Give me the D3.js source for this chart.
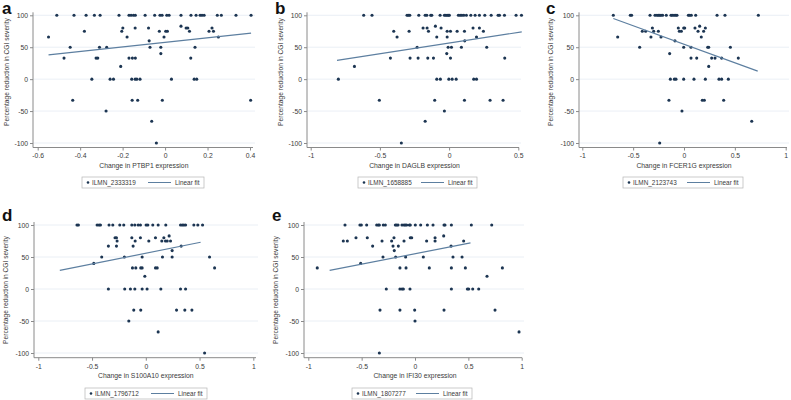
<!DOCTYPE html>
<html><head><meta charset="utf-8">
<script src="https://cdn.jsdelivr.net/npm/d3@7"></script>
<style>
html,body{margin:0;padding:0;background:#fff;}
svg{display:block;font-family:"Liberation Sans",Arial,sans-serif;}
</style></head>
<body><svg id="c" width="791" height="400"></svg>
<script>
// ---------- data ----------
const panelLetters = ["a","b","c","d","e"];
const genes = ["PTBP1","DAGLB","FCER1G","S100A10","IFI30"];
const probes = ["ILMN_2333319","ILMN_1658885","ILMN_2123743","ILMN_1796712","ILMN_1807277"];
const yTicks = [-100,-50,0,50,100];
const xTicksA = [-0.6,-0.4,-0.2,0,0.2,0.4];
const xTicksB = [-1,-0.5,0,0.5];
const xTicksC = [-1,-0.5,0,0.5,1];
const xTicksD = [-1,-0.5,0,0.5,1];
const xTicksE = [-1,-0.5,0,0.5,1];

const pointsA = [
[-0.51,100],[-0.429,100],[-0.372,100],[-0.333,100],[-0.306,100],[-0.217,100],[-0.170,100],[-0.160,100],[-0.149,100],[-0.140,100],[-0.094,100],[-0.049,100],[-0.024,100],[-0.014,100],[0.008,100],[0.019,100],[0.075,100],[0.122,100],[0.146,100],[0.165,100],[0.174,100],[0.184,100],[0.246,100],[0.265,100],[0.334,100],[0.405,100],
[-0.549,66],[-0.380,75],[-0.447,50],[-0.476,33],[-0.309,50],[-0.325,33],[-0.317,33],[-0.275,50],[-0.345,0],[-0.259,0],[-0.243,0],[-0.435,-33],[-0.278,-50],
[-0.209,20],[-0.204,75],[-0.199,80],[-0.179,66],[-0.170,33],[-0.154,33],[-0.141,80],[-0.140,33],[-0.157,0],[-0.141,0],[-0.133,0],[-0.118,0],[-0.155,-33],[-0.129,-33],
[-0.078,80],[-0.075,60],[-0.071,50],[-0.063,-66],[-0.041,-100],[-0.027,75],[-0.020,50],[-0.020,40],[-0.013,-33],[-0.005,66],[0.003,75],[0.011,75],[0.030,0],
[0.075,83],[0.099,80],[0.107,80],[0.115,75],[0.121,33],[0.137,0],[0.149,0],[0.141,50],[0.207,75],[0.221,80],[0.228,75],[0.251,66],[0.403,-33]
];
const pointsB = [
[-0.617,100],[-0.557,100],[-0.304,100],[-0.294,100],[-0.284,100],[-0.219,100],[-0.173,100],[-0.161,100],[-0.133,100],[-0.125,100],[-0.065,100],[-0.034,100],[-0.024,100],[-0.014,100],[-0.005,100],[0.002,100],[0.067,100],[0.080,100],[0.092,100],[0.106,100],[0.125,100],[0.157,100],[0.188,100],[0.219,100],[0.258,100],[0.304,100],[0.354,100],[0.364,100],[0.400,100],[0.484,100],[0.523,100],
[-0.80,0],[-0.684,20],[-0.504,-33],[-0.400,75],[-0.376,66],[-0.424,33],[-0.345,-100],[-0.289,75],[-0.282,33],[-0.231,50],[-0.224,33],[-0.188,80],[-0.173,-66],
[-0.159,80],[-0.149,75],[-0.154,33],[-0.113,33],[-0.104,-33],[-0.099,83],[-0.089,66],[-0.089,0],[-0.058,80],[-0.063,0],[-0.034,-50],[-0.017,40],[-0.014,66],[-0.014,75],
[-0.007,50],[-0.002,0],[0.010,75],[0.010,33],[0.017,50],[0.022,0],[0.051,0],[0.058,75],[0.089,50],[0.111,75],[0.113,60],[0.111,-33],[0.173,80],[0.178,0],[0.198,0],
[0.198,66],[0.219,80],[0.248,75],[0.272,50],[0.296,-33],[0.390,-33],[0.402,33]
];
const pointsC = [
[-0.695,100],[-0.528,100],[-0.515,100],[-0.334,100],[-0.285,100],[-0.266,100],[-0.252,100],[-0.239,100],[-0.226,100],[-0.210,100],[-0.174,100],[-0.128,100],[-0.115,100],[-0.098,100],[-0.082,100],[-0.069,100],[0.043,100],[0.056,100],[0.072,100],[0.115,100],[0.325,100],[0.403,100],[0.731,100],
[-0.652,66],[-0.436,50],[-0.410,75],[-0.377,75],[-0.311,80],[-0.298,75],[-0.325,66],[-0.252,75],[-0.226,66],[-0.239,-100],[-0.141,40],[-0.134,0],[-0.148,-33],
[-0.089,60],[-0.095,0],[-0.079,0],[-0.056,80],[-0.046,75],[-0.026,75],[-0.003,80],[0.007,80],[-0.003,50],[-0.003,0],[-0.020,-50],[0.069,50],[0.069,33],[0.098,0],
[0.108,80],[0.125,33],[0.138,75],[0.154,83],[0.170,66],[0.180,-33],[0.200,-33],[0.193,75],[0.210,80],[0.210,0],[0.233,50],[0.243,50],[0.243,20],[0.272,33],
[0.305,33],[0.344,0],[0.370,0],[0.370,33],[0.390,-33],[0.436,0],[0.456,50],[0.534,33],[0.666,-66]
];
const pointsD = [
[-0.640,100],[-0.627,100],[-0.453,100],[-0.435,100],[-0.422,100],[-0.342,100],[-0.307,100],[-0.242,100],[-0.205,100],[-0.130,100],[-0.102,100],[-0.071,100],[-0.050,100],[0.003,100],[0.019,100],[0.065,100],[0.115,100],[0.186,100],[0.323,100],[0.339,100],[0.354,100],[0.370,100],[0.447,100],[0.484,100],[0.528,100],
[-0.484,40],[-0.410,50],[-0.348,67],[-0.348,0],[-0.286,80],[-0.273,80],[-0.267,75],[-0.273,67],[-0.199,50],[-0.196,0],[-0.158,-50],[-0.143,0],[-0.130,80],[-0.118,67],
[-0.124,33],[-0.112,-33],[-0.102,0],[-0.099,75],[-0.093,33],[-0.050,80],[-0.047,33],[-0.034,33],[-0.047,-33],[-0.034,50],[-0.034,0],[-0.009,20],[0.012,0],[0.028,75],
[0.090,80],[0.090,33],[0.106,33],[0.115,-67],[0.140,0],[0.149,75],[0.155,50],[0.168,80],[0.183,75],[0.199,75],[0.217,83],[0.230,75],[0.245,60],[0.245,50],
[0.286,-33],[0.323,0],[0.329,67],[0.363,-33],[0.370,0],[0.429,-33],[0.547,-100],[0.593,50],[0.640,33]
];
const pointsE = [
[-0.656,100],[-0.516,100],[-0.503,100],[-0.453,100],[-0.359,100],[-0.344,100],[-0.334,100],[-0.297,100],[-0.278,100],[-0.184,100],[-0.172,100],[-0.159,100],[-0.122,100],[-0.103,100],[-0.091,100],[-0.078,100],[-0.053,100],[-0.044,100],[0.003,100],[0.053,100],[0.116,100],[0.169,100],[0.272,100],[0.281,100],[0.341,100],[0.528,100],[0.719,100],
[-0.916,33],[-0.672,75],[-0.634,75],[-0.553,80],[-0.509,40],[-0.447,80],[-0.397,67],[-0.334,-100],[-0.328,-33],[-0.309,75],[-0.300,50],[-0.269,0],[-0.219,75],
[-0.206,67],[-0.197,80],[-0.194,60],[-0.181,50],[-0.156,67],[-0.141,33],[-0.141,0],[-0.141,-33],[-0.122,0],[-0.109,0],[-0.103,75],[-0.088,50],[-0.084,33],[-0.047,0],
[-0.044,80],[-0.031,80],[-0.003,-33],[0.000,-50],[0.078,50],[0.109,75],[0.134,33],[0.188,80],[0.188,75],[0.269,83],[0.272,-33],[0.338,67],[0.341,33],[0.341,0],
[0.356,50],[0.441,50],[0.456,75],[0.472,33],[0.491,0],[0.503,0],[0.541,0],[0.597,0],[0.675,20],[0.750,-33],[0.819,33],[0.975,-67]
];
const fitA = [[-0.549,38],[0.405,72]];
const fitB = [[-0.81,29.5],[0.525,74]];
const fitC = [[-0.695,95],[0.725,12.5]];
const fitD = [[-0.80,29],[0.51,73]];
const fitE = [[-0.80,29],[0.52,72]];

// ---------- layout ----------
const layout = [
 {yAxisX:33, xr:[37.7,250], yr:[143,15.3], xAxisY:147.5, right:255, letter:[2,14], yTitleX:6, yTitleY:72, legend:[82,177,122]},
 {yAxisX:307, xr:[310.7,518.3], yr:[143,15.3], xAxisY:147.5, right:521, letter:[275,14], yTitleX:280, yTitleY:72, legend:[358,177,119]},
 {yAxisX:579, xr:[582.3,785.7], yr:[143,15.3], xAxisY:147.5, right:789, letter:[546,14], yTitleX:550, yTitleY:72, legend:[623,177,120]},
 {yAxisX:34, xr:[38.3,253.3], yr:[353,225], xAxisY:357.7, right:258, letter:[2,221], yTitleX:5, yTitleY:290, legend:[85,388,122]},
 {yAxisX:304, xr:[308.3,521.7], yr:[353,225], xAxisY:357.7, right:524, letter:[272,221], yTitleX:275, yTitleY:290, legend:[352,388,120]}
];
const allPoints = [pointsA,pointsB,pointsC,pointsD,pointsE];
const allFits = [fitA,fitB,fitC,fitD,fitE];
const allXTicks = [xTicksA,xTicksB,xTicksC,xTicksD,xTicksE];

const svg = d3.select("#c");
const textCol = "#3a3a3a", axisCol = "#8a8a8a", gridCol = "#e4ebf2";
const dotCol = "#1c3552", lineCol = "#5d7fa0";

layout.forEach((L,i) => {
  const xt = allXTicks[i];
  const x = d3.scaleLinear().domain([xt[0], xt[xt.length-1]]).range(L.xr);
  const y = d3.scaleLinear().domain([-100,100]).range(L.yr);
  const g = svg.append("g");

  // grid
  g.selectAll("line.grid").data(yTicks).join("line")
    .attr("x1", L.yAxisX).attr("x2", L.right)
    .attr("y1", d=>y(d)).attr("y2", d=>y(d))
    .attr("stroke", gridCol).attr("stroke-width", 0.8);

  // y axis
  const ya = g.append("g").attr("transform", `translate(${L.yAxisX},0)`)
    .call(d3.axisLeft(y).tickValues(yTicks).tickFormat(d=>String(d)).tickSize(3).tickSizeOuter(0));
  ya.select(".domain").attr("stroke", axisCol).attr("d", `M0,${y(100)-3}V${L.xAxisY}`);
  ya.selectAll(".tick line").attr("stroke", axisCol);
  ya.selectAll(".tick text").attr("font-size", 6.8).attr("fill", textCol).attr("x", -5).attr("font-family","Liberation Sans, Arial, sans-serif");

  // x axis
  const xa = g.append("g").attr("transform", `translate(0,${L.xAxisY})`)
    .call(d3.axisBottom(x).tickValues(xt).tickFormat(d=>String(d)).tickSize(3).tickSizeOuter(0));
  xa.select(".domain").attr("stroke", axisCol).attr("d", `M${L.yAxisX},0H${L.right-2}`);
  xa.selectAll(".tick line").attr("stroke", axisCol);
  xa.selectAll(".tick text").attr("font-size", 6.8).attr("fill", textCol).attr("y", 6).attr("font-family","Liberation Sans, Arial, sans-serif");

  // points
  g.selectAll("circle.pt").data(allPoints[i]).join("circle")
    .attr("cx", d=>x(d[0])).attr("cy", d=>y(d[1])).attr("r", 1.55).attr("fill", dotCol);

  // fit line
  const f = allFits[i];
  g.append("line").attr("x1", x(f[0][0])).attr("y1", y(f[0][1]))
    .attr("x2", x(f[1][0])).attr("y2", y(f[1][1]))
    .attr("stroke", lineCol).attr("stroke-width", 1.2);

  // titles
  const xmid = (L.xr[0]+L.xr[1])/2;
  g.append("text").attr("x", xmid).attr("y", L.xAxisY+20.5).attr("text-anchor","middle")
    .attr("font-size", 6.8).attr("fill", textCol).text(`Change in ${genes[i]} expression`);
  g.append("text").attr("transform", `translate(${L.yTitleX+2.5},${L.yTitleY}) rotate(-90)`)
    .attr("text-anchor","middle").attr("font-size", 6.6).attr("fill", textCol)
    .text("Percentage reduction in CGI severity");
  g.append("text").attr("x", L.letter[0]).attr("y", L.letter[1]).attr("font-size", 17)
    .attr("font-weight","bold").attr("fill","#111").text(panelLetters[i]);

  // legend
  const [lx,ly,lw] = L.legend;
  const lg = g.append("g").attr("transform", `translate(${lx},${ly})`);
  lg.append("rect").attr("width", lw).attr("height", 11).attr("fill","#fff").attr("stroke","#b5b5b5").attr("stroke-width",0.7);
  lg.append("circle").attr("cx", 6).attr("cy", 5.5).attr("r", 1.3).attr("fill", dotCol);
  lg.append("text").attr("x", 10).attr("y", 8).attr("font-size", 6.4).attr("fill", textCol).text(probes[i]);
  lg.append("line").attr("x1", lw-56).attr("x2", lw-33).attr("y1", 5.5).attr("y2", 5.5).attr("stroke", lineCol).attr("stroke-width", 1);
  lg.append("text").attr("x", lw-29).attr("y", 8).attr("font-size", 6.4).attr("fill", textCol).text("Linear fit");
});
</script></body></html>
